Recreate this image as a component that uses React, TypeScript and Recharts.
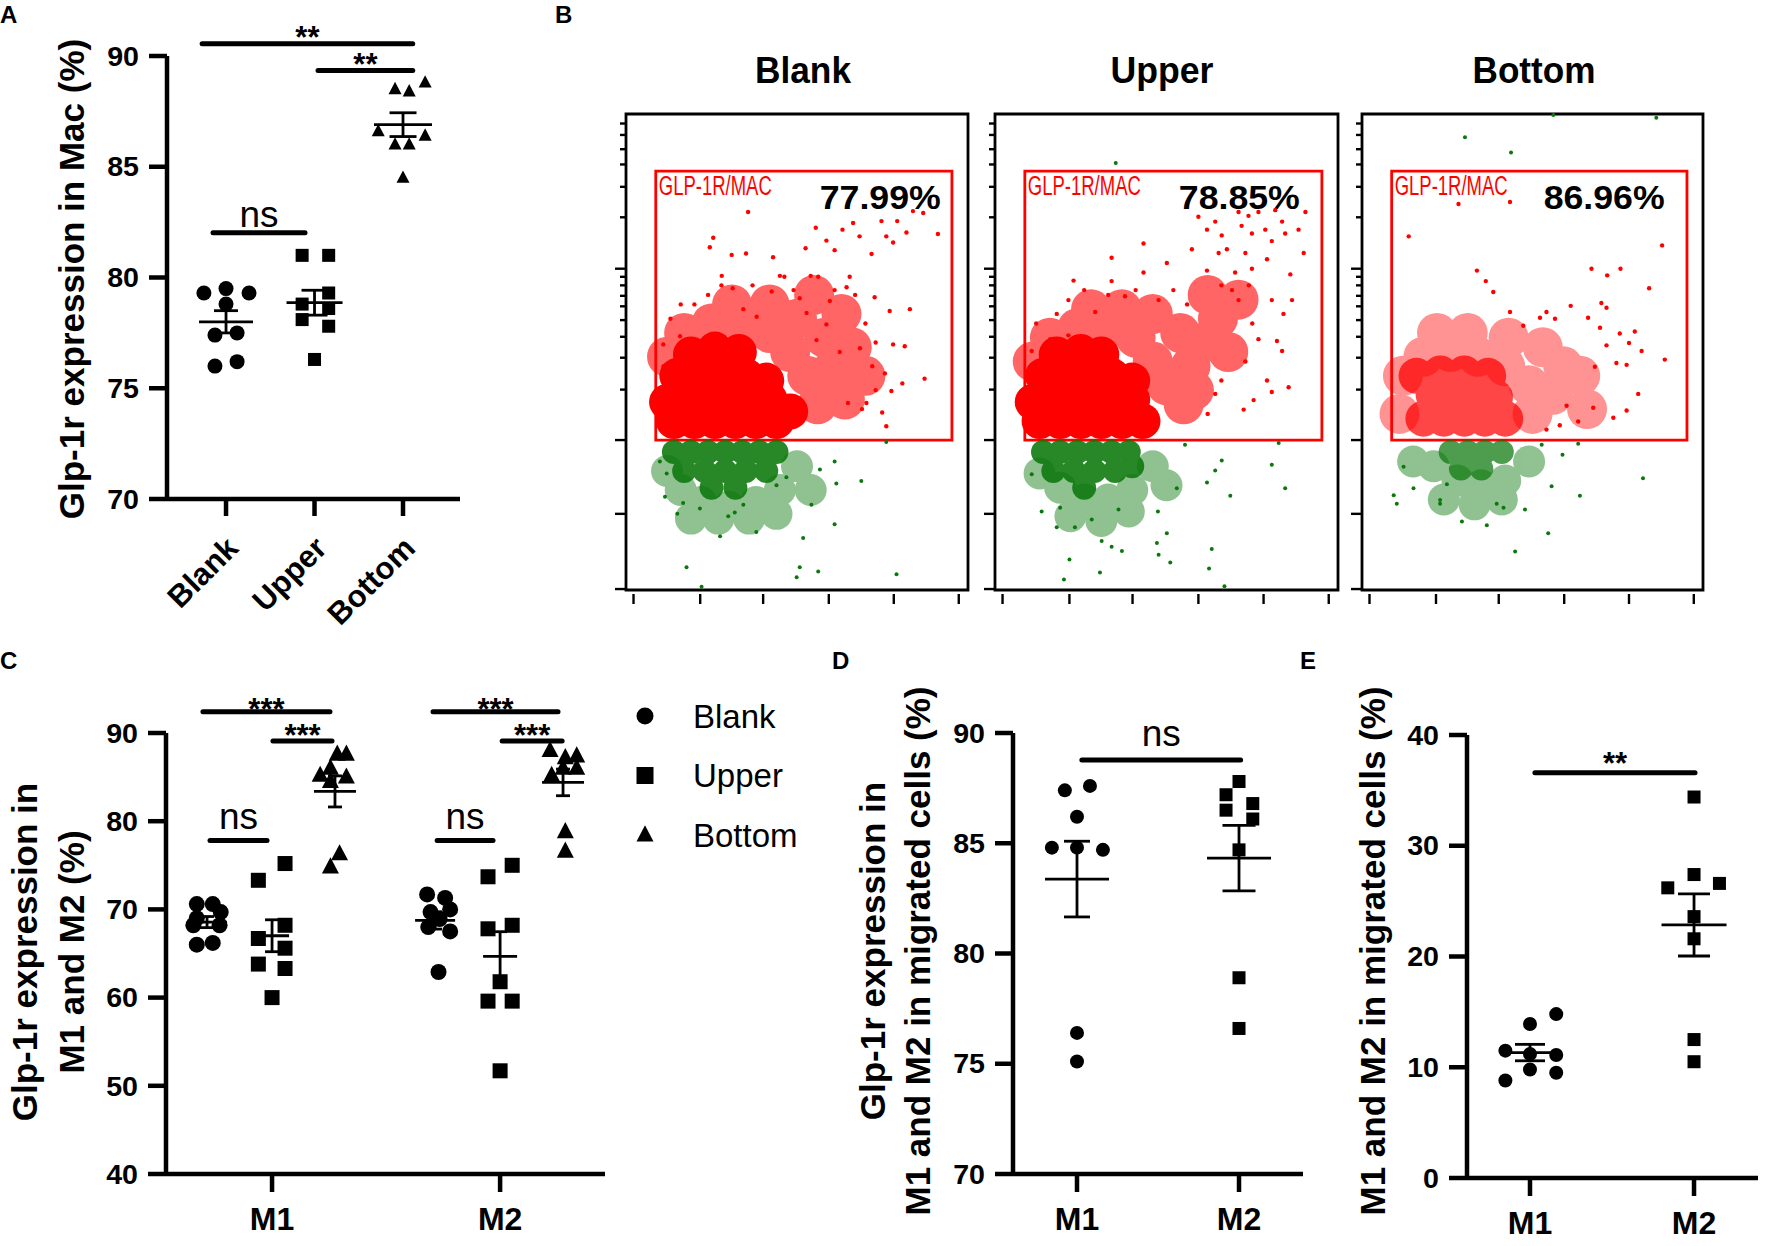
import React from 'react';
import {
  ScatterChart,
  Scatter,
  XAxis,
  YAxis,
  ErrorBar,
  ReferenceLine,
  ReferenceArea,
  Legend,
} from 'recharts';

const FONT = '"Liberation Sans", Arial, Helvetica, sans-serif';

// ---------- Panel A: Glp-1r expression in Mac ----------
const A_CATEGORIES = ['Blank', 'Upper', 'Bottom'];
const A_BLANK = [79.3, 79.5, 79.3, 78.8, 77.4, 77.5, 76.0, 76.2];
const A_BLANK_JITTER = [-0.25, 0, 0.26, 0, -0.125, 0.125, -0.125, 0.125];
const A_UPPER = [81.0, 81.0, 79.3, 78.8, 78.1, 78.6, 77.8, 76.3];
const A_UPPER_JITTER = [-0.14, 0.16, 0.16, -0.14, -0.14, 0.16, 0.16, 0];
const A_BOTTOM = [88.8, 88.5, 88.4, 86.6, 86.4, 86.0, 86.0, 84.5];
const A_BOTTOM_JITTER = [0.25, -0.09, 0.07, -0.28, 0.25, -0.09, 0.07, 0];
const A_Y_TICKS = [70, 75, 80, 85, 90];

// ---------- Panel C: M1 / M2 by group ----------
const SERIES_NAMES = ['Blank', 'Upper', 'Bottom'];
const C_CATEGORIES = ['M1', 'M2'];
const C_M1_BLANK = [70.6, 70.6, 69.7, 69.0, 68.2, 68.2, 66.0, 66.2];
const C_M1_BLANK_JITTER = [-0.045, 0.025, 0.06, -0.045, -0.06, 0.055, -0.045, 0.025];
const C_M1_UPPER = [73.3, 75.2, 66.7, 68.2, 65.6, 63.8, 63.3, 60.0];
const C_M1_UPPER_JITTER = [-0.06, 0.057, -0.06, 0.057, 0.057, -0.06, 0.057, 0];
const C_M1_BOTTOM = [86.0, 87.6, 87.6, 85.2, 85.0, 84.5, 76.3, 74.8];
const C_M1_BOTTOM_JITTER = [-0.02, 0.01, 0.05, -0.065, 0.05, -0.02, 0.02, -0.02];
const C_M2_BLANK = [71.7, 71.3, 70.0, 69.7, 68.9, 68.0, 67.5, 62.9];
const C_M2_BLANK_JITTER = [-0.035, 0.044, 0.066, -0.02, 0.02, -0.03, 0.066, 0.015];
const C_M2_UPPER = [73.7, 75.0, 67.8, 68.2, 61.8, 59.6, 59.6, 51.7];
const C_M2_UPPER_JITTER = [-0.053, 0.053, -0.053, 0.053, 0, -0.053, 0.053, 0];
const C_M2_BOTTOM = [88.0, 87.2, 87.4, 86.0, 85.2, 86.0, 78.8, 76.6];
const C_M2_BOTTOM_JITTER = [-0.057, 0.01, 0.06, 0.06, -0.05, 0, 0.01, 0.01];
const C_Y_TICKS = [40, 50, 60, 70, 80, 90];

// ---------- Panel D: Glp-1r in migrated cells ----------
const D_M1 = [87.4, 87.6, 86.2, 84.8, 84.8, 84.7, 76.4, 75.1];
const D_M1_JITTER = [-0.075, 0.08, 0, -0.155, 0, 0.16, 0, 0];
const D_M2 = [87.8, 87.2, 86.8, 86.5, 86.1, 84.7, 78.9, 76.6];
const D_M2_JITTER = [0, -0.08, 0.085, -0.08, 0.085, 0, 0, 0];
const D_Y_TICKS = [70, 75, 80, 85, 90];

// ---------- Panel E: M1 and M2 in migrated cells ----------
const E_M1 = [13.9, 14.8, 11.5, 11.1, 11.2, 9.8, 9.5, 8.8];
const E_M1_JITTER = [0, 0.16, -0.15, 0.16, 0, 0, 0.16, -0.15];
const E_M2 = [34.4, 27.4, 26.2, 26.6, 23.6, 21.6, 12.5, 10.5];
const E_M2_JITTER = [0, 0, -0.16, 0.155, 0, 0, 0, 0];
const E_Y_TICKS = [0, 10, 20, 30, 40];

// ---------- Panel B: flow cytometry (arbitrary 0-100 units) ----------
const FLOW_TITLES = ['Blank', 'Upper', 'Bottom'];
const FLOW_PERCENTS = ['77.99%', '78.85%', '86.96%'];
const FLOW_GATE_NAME = 'GLP-1R/MAC';
const FLOW_X_TICKS = [2.2, 21.7, 40.1, 59.3, 78.3, 97.3];
const FLOW_Y_MAJOR = [0.2, 16, 31.5, 67.5];
const FLOW_Y_MINOR = [42.1, 48.8, 53.2, 56.7, 59.6, 61.8, 64.0, 65.8, 78.3, 84.7, 89.4, 92.6, 95.6, 98.0];
const FLOW_GATE = { x1: 8.7, x2: 95.3, y1: 31.5, y2: 88 };

const BLANK_RED_CORE = [[14, 35.5], [20, 35.5], [26, 35.5], [32, 35.5], [38, 35.5], [44, 35.5], [12, 39.5], [18, 40.5], [24, 40.5], [30, 40.5], [36, 40.5], [42, 40], [48, 37.5], [15, 45], [21, 45], [28, 45.5], [35, 45], [41, 44], [19, 49.5], [26, 50.5], [33, 50]];
const BLANK_RED_HALO = [[12, 49], [17, 54], [25, 56], [34, 56], [42, 54], [48, 50], [53, 45], [56, 39], [60, 46], [58, 53], [50, 57], [42, 60], [31, 60], [64, 40], [66, 51], [63, 58], [70, 45], [55, 62]];
const BLANK_RED_DOTS = [[35.7, 79.4], [25.5, 74.0], [24.5, 72.0], [30.9, 70.4], [35.1, 70.7], [43.0, 69.9], [55.5, 76.1], [52.5, 71.8], [58.6, 73.4], [61.0, 71.4], [63.3, 75.7], [66.4, 77.1], [68.3, 74.3], [71.8, 70.6], [74.7, 77.5], [76.1, 74.3], [78.1, 73.0], [79.3, 77.5], [82.0, 75.1], [83.9, 79.6], [86.9, 79.2], [91.2, 74.8], [46.3, 65.8], [56.2, 65.8], [65.4, 65.8], [64.5, 63.6], [27.9, 64.0], [31.2, 63.4], [42.6, 62.7], [50.8, 61.3], [59.6, 60.7], [72.7, 61.5], [77.1, 58.6], [83.0, 59.0], [78.1, 51.6], [81.5, 51.2], [75.7, 45.5], [87.3, 44.4], [80.8, 43.4], [77.6, 41.8], [74.9, 37.3], [70.3, 39.3], [76.1, 34.4], [64.9, 39.3], [10.9, 51.6], [15.8, 53.3], [34.3, 59.0], [38.2, 57.4], [52.8, 58.2], [58.6, 55.8], [68.4, 50.8], [62.5, 50.0], [55.7, 52.5], [20, 60], [24, 62], [28, 66], [37, 64], [45, 66], [49, 63], [54, 66], [61, 63], [67, 62], [70, 56], [73, 52], [72, 47], [69, 38], [73, 42], [13, 57], [11, 47], [16, 60]];
const BLANK_GREEN_CORE = [[14, 29], [19, 29], [24, 29], [29, 29], [34, 29], [39, 29], [44, 29], [17, 25], [23, 25], [29, 25], [35, 25], [41, 25], [25, 21.5], [32, 21.5]];
const BLANK_GREEN_HALO = [[12, 25], [16, 21], [22, 18.5], [30, 17.5], [38, 18.5], [45, 21], [50, 26], [27, 15], [36, 15], [19, 15], [54, 21], [44, 16]];
const BLANK_GREEN_DOTS = [[9.9, 27], [11.9, 24.5], [11.4, 19.6], [15.0, 16.0], [16.7, 18.3], [21.6, 17.1], [27.5, 11.3], [29.9, 15.5], [31.8, 16.3], [34.3, 17.9], [38.1, 12.2], [44.0, 22.0], [46.9, 23.7], [51.8, 10.9], [54.2, 17.9], [56.7, 25.3], [61.0, 27.0], [61.5, 22.4], [68.8, 22.9], [61.0, 13.8], [17.7, 4.8], [50.8, 4.8], [56.2, 3.9], [79.1, 3.3], [76.1, 31.1], [22.1, 0.7], [49.9, 2.7]];

const UPPER_RED_CORE = [[13, 35.5], [19, 35.5], [25, 35.5], [31, 35.5], [37, 35.5], [43, 35.5], [11, 39.5], [16, 40.5], [22, 40.5], [28, 40.5], [34, 40.5], [40, 40], [14, 45], [20, 45], [27, 45.5], [34, 45], [40, 44], [18, 49.5], [25, 50], [31, 49.5]];
const UPPER_RED_HALO = [[11, 48], [16, 53], [24, 55], [33, 55], [41, 53], [46, 48], [50, 43], [55, 39], [57, 47], [54, 54], [46, 58], [37, 59], [28, 59], [61, 52], [65, 57], [68, 50], [62, 62], [71, 61], [58, 42]];
const UPPER_RED_DOTS = [[59.3, 78.4], [61.8, 75.7], [64.2, 77.4], [66.1, 74.5], [67.6, 71.6], [71.0, 79.4], [71.9, 76.5], [73.9, 78.6], [74.9, 74.9], [76.8, 79.4], [78.8, 75.7], [80.7, 73.3], [81.7, 79.8], [83.7, 77.4], [84.6, 74.9], [88.5, 75.7], [90.5, 79.4], [90.0, 70.8], [79.3, 69.5], [73.0, 70.8], [65.2, 70.8], [57.4, 71.6], [43.3, 72.8], [50.1, 68.7], [34.0, 69.8], [34.0, 64.9], [22.9, 65.0], [43.3, 66.7], [61.8, 67.1], [70.0, 66.7], [74.9, 67.5], [86.1, 66.3], [86.6, 60.9], [80.7, 60.9], [71.0, 60.9], [69.1, 63.0], [47.7, 60.9], [37.9, 61.7], [29.2, 58.4], [21.4, 60.9], [84.1, 58.0], [82.2, 52.3], [76.8, 52.7], [83.7, 50.2], [79.3, 44.0], [85.6, 42.6], [75.4, 39.9], [72.5, 37.9], [64.2, 41.2], [80.7, 41.6], [21.4, 53.5], [16.1, 52.7], [10.7, 50.2], [18, 58], [26, 63], [33, 62], [41, 63], [52, 63], [56, 60], [66, 64], [74, 64], [75, 56], [73, 48], [66, 44], [62, 37], [12, 56]];
const UPPER_GREEN_CORE = [[14, 29], [19, 29], [24, 29], [29, 29], [34, 29], [39, 29], [17, 25], [23, 25], [29, 25], [35, 25], [40, 26], [26, 21.5]];
const UPPER_GREEN_HALO = [[13, 24.5], [19, 21.5], [26, 19], [33, 19], [40, 21], [46, 26], [22, 15.5], [31, 14.5], [39, 16.5], [50, 22]];
const UPPER_GREEN_DOTS = [[10.7, 24.3], [13.6, 16.5], [19.0, 17.3], [18.0, 13.2], [23.3, 13.2], [28.2, 14.8], [31.1, 10.3], [34.0, 9.1], [36.0, 16.9], [37.0, 8.2], [47.2, 9.9], [47.5, 16.5], [50.1, 11.9], [47.7, 7.4], [51.1, 5.8], [53.0, 21.4], [55.4, 30.5], [61.8, 22.6], [64.2, 25.1], [66.1, 27.2], [68.6, 19.8], [80.7, 26.3], [82.7, 30.9], [84.6, 21.4], [63.2, 8.6], [62.4, 4.5], [21.7, 6.4], [20.1, 2.2], [30.6, 3.7], [66.9, 0.8], [35.2, 89.7]];

const BOTTOM_RED_CORE = [[18, 36], [24, 36], [30, 36], [36, 36], [42, 36], [21, 41], [27, 41], [33, 41], [39, 40.5], [16, 45], [23, 45.5], [30, 45.5], [37, 45]];
const BOTTOM_RED_HALO = [[11, 37], [12, 45], [18, 49], [26, 50], [34, 49], [42, 47], [49, 43], [50, 37], [56, 41], [59, 47], [22, 54], [31, 54], [43, 53], [53, 51], [64, 45], [66, 38]];
const BOTTOM_RED_DOTS = [[13.7, 74.3], [28.3, 81.1], [43.4, 81.5], [33.7, 67.1], [36.3, 64.9], [38.5, 62.6], [67.3, 67.5], [71.9, 66.1], [75.8, 67.5], [84.2, 63.4], [88.0, 72.4], [70.2, 60.3], [71.7, 59.3], [61.2, 59.7], [54.1, 58.4], [56.6, 57.0], [52.2, 57.2], [43.4, 58.4], [47.3, 55.5], [69.8, 55.1], [66.3, 57.2], [75.6, 53.9], [80.0, 54.3], [71.7, 51.4], [78.3, 51.9], [82.0, 50.2], [74.6, 47.7], [77.6, 47.3], [68.3, 46.9], [88.8, 48.4], [81.0, 41.2], [77.6, 37.7], [73.7, 36.2], [63.4, 35.4], [67.8, 38.3], [60.0, 38.7], [58.0, 34.6], [54.1, 33.7]];
const BOTTOM_GREEN_CORE = [[26, 29], [31, 29], [36, 29], [41, 29], [29, 25.5], [35, 25.5]];
const BOTTOM_GREEN_HALO = [[15, 27], [21, 26], [28, 23], [35, 22], [42, 23], [49, 27], [24, 19], [33, 18], [41, 19]];
const BOTTOM_GREEN_DOTS = [[9.3, 19.9], [10.2, 18.1], [15.1, 21.4], [12.2, 25.9], [22.9, 18.9], [24.9, 22.2], [22.9, 18.1], [29.3, 14.4], [36.6, 13.6], [39.5, 18.1], [41.5, 17.3], [47.8, 16.9], [44.9, 8.1], [54.6, 11.9], [55.6, 21.8], [58.8, 28.4], [63.4, 30.7], [63.9, 19.8], [82.4, 23.5], [52.7, 30.5], [30.2, 95.1], [43.7, 91.9], [56.1, 99.8], [86.3, 99.2]];

// ---------- helpers ----------
type Kind = 'circle' | 'square' | 'triangle';
const KIND_OF: Record<string, Kind> = { Blank: 'circle', Upper: 'square', Bottom: 'triangle' };
const RED = '#ff0000';
const GREEN = '#0b780b';

// group opacity keeps overlapping blobs one even tone
const FLOW_CSS = `
.flow-red-halo { opacity: 0.6; }
.flow-red-halo-light { opacity: 0.42; }
.flow-red-core-light { opacity: 0.72; }
.flow-green-halo { opacity: 0.45; }
.flow-green-core { opacity: 0.88; }
.flow-green-core-light { opacity: 0.72; }
`;

const markerEl = (kind: Kind, cx: number, cy: number, size: number, key?: string) => {
  if (kind === 'circle') return <circle key={key} cx={cx} cy={cy} r={size / 2} fill="#000" />;
  if (kind === 'square')
    return <rect key={key} x={cx - size / 2} y={cy - size / 2} width={size} height={size} fill="#000" />;
  const h = size * 0.95;
  return (
    <path
      key={key}
      d={`M${cx},${cy - h * 0.6}L${cx + size / 2},${cy + h * 0.4}L${cx - size / 2},${cy + h * 0.4}Z`}
      fill="#000"
    />
  );
};

const markerShape = (kind: Kind, size: number) => (p: any) =>
  p.cx == null ? <g /> : markerEl(kind, p.cx, p.cy, size);

const meanShape = (w: number) => (p: any) =>
  p.cx == null ? <g /> : (
    <line x1={p.cx - w / 2} x2={p.cx + w / 2} y1={p.cy} y2={p.cy} stroke="#000" strokeWidth={2.8} />
  );

const dotShape = (r: number, color: string) => (p: any) =>
  p.cx == null ? <g /> : <circle cx={p.cx} cy={p.cy} r={r} fill={color} />;

const toPoints = (arr: number[][]) => arr.map(([x, y]) => ({ x, y }));

const stripPoints = (center: number, values: number[], jitter: number[]) =>
  values.map((v, i) => ({ x: center + jitter[i], y: v }));

const meanSem = (center: number, values: number[]) => {
  const n = values.length;
  const mean = values.reduce((s, v) => s + v, 0) / n;
  const sd = Math.sqrt(values.reduce((s, v) => s + (v - mean) ** 2, 0) / (n - 1));
  return [{ x: center, y: mean, sem: sd / Math.sqrt(n) }];
};

function SText({ x, y, children, size, weight = 'bold', anchor = 'start', sx = 1, rotate = 0, fill = '#000', length, dy }: any) {
  return (
    <text
      transform={`translate(${x},${y}) scale(${sx},1)${rotate ? ` rotate(${rotate})` : ''}`}
      textAnchor={anchor}
      fontSize={size}
      fontWeight={weight}
      fontFamily={FONT}
      fill={fill}
      dy={dy}
      textLength={length}
      lengthAdjust={length ? 'spacingAndGlyphs' : undefined}
    >
      {children}
    </text>
  );
}

const NumTick = (p: any) => (
  <SText x={p.x} y={p.y} size={27} sx={1.06} anchor="end" dy="0.36em">
    {p.payload.value}
  </SText>
);

const catTick = (labels: string[]) => (p: any) => (
  <SText x={p.x} y={p.y + 38} size={32} anchor="middle">
    {labels[p.payload.value - 1]}
  </SText>
);

const rotatedTick = (labels: string[]) => (p: any) => (
  <text
    transform={`translate(${p.x + 14},${p.y + 34}) rotate(-45)`}
    textAnchor="end"
    fontSize={31}
    fontWeight="bold"
    fontFamily={FONT}
    fill="#000"
  >
    {labels[p.payload.value - 1]}
  </text>
);

type Group = { name: string; center: number; values: number[]; jitter: number[]; size: number; meanW: number; capW: number };
type Sig = { x1: number; x2: number; y: number; text: string; dy: number };

const sigLine = (s: Sig, i: number) => {
  const isNs = s.text === 'ns';
  return (
    <ReferenceLine
      key={`sig-${i}`}
      segment={[{ x: s.x1, y: s.y }, { x: s.x2, y: s.y }]}
      stroke="#000"
      strokeWidth={5}
      strokeLinecap="round"
      ifOverflow="visible"
      label={(lp: any) => {
        const vb = lp.viewBox || {};
        return (
          <text
            x={vb.x + (vb.width || 0) / 2}
            y={vb.y + s.dy}
            textAnchor="middle"
            fontSize={isNs ? 37 : 31}
            fontWeight={isNs ? 'normal' : 'bold'}
            fontFamily={FONT}
            fill="#000"
          >
            {s.text}
          </text>
        );
      }}
    />
  );
};

function StripPanel({ frame, margin, xDomain, xTicks, xTick, xAxisH, xTickSize, yDomain, yTicks, groups, sigs, legend }: any) {
  return (
    <div style={{ position: 'absolute', left: frame.left, top: frame.top }}>
      <ScatterChart width={frame.width} height={frame.height} margin={margin}>
        <XAxis
          type="number"
          dataKey="x"
          domain={xDomain}
          ticks={xTicks}
          interval={0}
          height={xAxisH}
          tickSize={xTickSize}
          tickMargin={0}
          axisLine={{ stroke: '#000', strokeWidth: 4.5 }}
          tickLine={{ stroke: '#000', strokeWidth: 4.5 }}
          tick={xTick}
        />
        <YAxis
          type="number"
          dataKey="y"
          domain={yDomain}
          ticks={yTicks}
          interval={0}
          width={80}
          tickSize={18}
          tickMargin={10}
          axisLine={{ stroke: '#000', strokeWidth: 4.5 }}
          tickLine={{ stroke: '#000', strokeWidth: 4.5 }}
          tick={NumTick}
        />
        {groups.map((g: Group, i: number) => (
          <Scatter
            key={`pts-${i}`}
            name={g.name}
            data={stripPoints(g.center, g.values, g.jitter)}
            shape={markerShape(KIND_OF[g.name], g.size)}
            isAnimationActive={false}
          />
        ))}
        {groups.map((g: Group, i: number) => (
          <Scatter
            key={`mean-${i}`}
            name={`${g.name} mean`}
            legendType="none"
            data={meanSem(g.center, g.values)}
            shape={meanShape(g.meanW)}
            isAnimationActive={false}
          >
            <ErrorBar
              dataKey="sem"
              direction="y"
              width={g.capW / 2}
              stroke="#000"
              strokeWidth={2.8}
              isAnimationActive={false}
            />
          </Scatter>
        ))}
        {sigs.map(sigLine)}
        {legend}
      </ScatterChart>
    </div>
  );
}

const legendContent = (props: any) => {
  const present = (props.payload || []).map((e: any) => e.value);
  const names = SERIES_NAMES.filter((n) => present.includes(n));
  return (
    <svg width={220} height={180}>
      {names.map((name, i) => (
        <g key={name}>
          {markerEl(KIND_OF[name], 20, 26 + i * 59.5, 17)}
          <SText x={68} y={37.5 + i * 59.5} size={33} weight="normal">
            {name}
          </SText>
        </g>
      ))}
    </svg>
  );
};

const FlowYTick = (p: any) => {
  const major = FLOW_Y_MAJOR.includes(p.payload.value);
  return <line x1={p.x - (major ? 11 : 6)} x2={p.x - 1} y1={p.y} y2={p.y} stroke="#000" strokeWidth={2.4} />;
};
const FlowXTick = (p: any) => (
  <line x1={p.x} x2={p.x} y1={p.y + 4} y2={p.y + 14} stroke="#000" strokeWidth={2.4} />
);

function FlowPanel({ boxLeft, boxW, pct, pctX, red, green, cls }: any) {
  const width = boxW + 38;
  return (
    <div style={{ position: 'absolute', left: boxLeft - 26, top: 90 }}>
      <ScatterChart width={width} height={530} margin={{ top: 24, left: 16, right: 12, bottom: 10 }}>
        <XAxis
          type="number"
          dataKey="x"
          domain={[0, 100]}
          ticks={FLOW_X_TICKS}
          interval={0}
          height={20}
          tickSize={0}
          tickMargin={0}
          axisLine={false}
          tickLine={false}
          tick={FlowXTick}
        />
        <YAxis
          type="number"
          dataKey="y"
          domain={[0, 100]}
          ticks={[...FLOW_Y_MAJOR, ...FLOW_Y_MINOR]}
          interval={0}
          width={10}
          tickSize={0}
          tickMargin={0}
          axisLine={false}
          tickLine={false}
          tick={FlowYTick}
        />
        <Scatter className={cls.greenHalo} data={toPoints(green.halo)} shape={dotShape(16, GREEN)} isAnimationActive={false} />
        <Scatter className={cls.greenCore} data={toPoints(green.core)} shape={dotShape(12, GREEN)} isAnimationActive={false} />
        <Scatter data={toPoints(green.dots)} shape={dotShape(2, GREEN)} isAnimationActive={false} />
        <Scatter className={cls.redHalo} data={toPoints(red.halo)} shape={dotShape(20, RED)} isAnimationActive={false} />
        <Scatter className={cls.redCore} data={toPoints(red.core)} shape={dotShape(18, RED)} isAnimationActive={false} />
        <Scatter data={toPoints(red.dots)} shape={dotShape(2.2, RED)} isAnimationActive={false} />
        <ReferenceArea x1={0} x2={100} y1={0} y2={100} fill="none" fillOpacity={0} stroke="#000" strokeWidth={2.8} />
        <ReferenceArea
          x1={FLOW_GATE.x1}
          x2={FLOW_GATE.x2}
          y1={FLOW_GATE.y1}
          y2={FLOW_GATE.y2}
          fill="none"
          fillOpacity={0}
          stroke={RED}
          strokeWidth={2.8}
          label={(lp: any) => {
            const vb = lp.viewBox || {};
            return (
              <g>
                <text x={vb.x + 3} y={vb.y + 24} fontSize={27} fontFamily={FONT} fill={RED} textLength={113} lengthAdjust="spacingAndGlyphs">
                  {FLOW_GATE_NAME}
                </text>
                <text x={vb.x + pctX} y={vb.y + 38} fontSize={33} fontWeight="bold" fontFamily={FONT} fill="#000" textLength={121} lengthAdjust="spacingAndGlyphs">
                  {pct}
                </text>
              </g>
            );
          }}
        />
      </ScatterChart>
    </div>
  );
}

export default function App() {
  const aGroups: Group[] = [
    { name: 'Blank', center: 1, values: A_BLANK, jitter: A_BLANK_JITTER, size: 15, meanW: 54, capW: 24 },
    { name: 'Upper', center: 2, values: A_UPPER, jitter: A_UPPER_JITTER, size: 13, meanW: 56, capW: 26 },
    { name: 'Bottom', center: 3, values: A_BOTTOM, jitter: A_BOTTOM_JITTER, size: 13, meanW: 58, capW: 27 },
  ];
  const aSigs: Sig[] = [
    { x1: 0.73, x2: 3.11, y: 90.55, text: '**', dy: 4 },
    { x1: 2.04, x2: 3.11, y: 89.35, text: '**', dy: 5 },
    { x1: 0.853, x2: 1.893, y: 82.02, text: 'ns', dy: -6 },
  ];
  const cGroups: Group[] = [
    { name: 'Blank', center: 0.715, values: C_M1_BLANK, jitter: C_M1_BLANK_JITTER, size: 16, meanW: 40, capW: 14 },
    { name: 'Upper', center: 1, values: C_M1_UPPER, jitter: C_M1_UPPER_JITTER, size: 15, meanW: 34, capW: 14 },
    { name: 'Bottom', center: 1.276, values: C_M1_BOTTOM, jitter: C_M1_BOTTOM_JITTER, size: 17, meanW: 42, capW: 14 },
    { name: 'Blank', center: 1.715, values: C_M2_BLANK, jitter: C_M2_BLANK_JITTER, size: 16, meanW: 40, capW: 14 },
    { name: 'Upper', center: 2, values: C_M2_UPPER, jitter: C_M2_UPPER_JITTER, size: 15, meanW: 34, capW: 14 },
    { name: 'Bottom', center: 2.276, values: C_M2_BOTTOM, jitter: C_M2_BOTTOM_JITTER, size: 17, meanW: 42, capW: 14 },
  ];
  const cSigs: Sig[] = [
    { x1: 0.697, x2: 1.254, y: 92.4, text: '***', dy: 8 },
    { x1: 1.004, x2: 1.263, y: 89.1, text: '***', dy: 5 },
    { x1: 0.728, x2: 0.978, y: 77.8, text: 'ns', dy: -12 },
    { x1: 1.706, x2: 2.254, y: 92.4, text: '***', dy: 8 },
    { x1: 2.009, x2: 2.272, y: 89.1, text: '***', dy: 5 },
    { x1: 1.724, x2: 1.969, y: 77.8, text: 'ns', dy: -12 },
  ];
  const dGroups: Group[] = [
    { name: 'Blank', center: 1, values: D_M1, jitter: D_M1_JITTER, size: 14, meanW: 64, capW: 26 },
    { name: 'Upper', center: 2, values: D_M2, jitter: D_M2_JITTER, size: 13, meanW: 64, capW: 33 },
  ];
  const dSigs: Sig[] = [{ x1: 1.03, x2: 2.01, y: 88.78, text: 'ns', dy: -14 }];
  const eGroups: Group[] = [
    { name: 'Blank', center: 1, values: E_M1, jitter: E_M1_JITTER, size: 14, meanW: 57, capW: 30 },
    { name: 'Upper', center: 2, values: E_M2, jitter: E_M2_JITTER, size: 13, meanW: 65, capW: 32 },
  ];
  const eSigs: Sig[] = [{ x1: 1.03, x2: 2.006, y: 36.6, text: '**', dy: 1 }];

  const denseCls = { redHalo: 'flow-red-halo', redCore: '', greenHalo: 'flow-green-halo', greenCore: 'flow-green-core' };
  const lightCls = { redHalo: 'flow-red-halo-light', redCore: 'flow-red-core-light', greenHalo: 'flow-green-halo', greenCore: 'flow-green-core-light' };
  const flows = [
    { boxLeft: 626, boxW: 342, pctX: 164, red: { core: BLANK_RED_CORE, halo: BLANK_RED_HALO, dots: BLANK_RED_DOTS }, green: { core: BLANK_GREEN_CORE, halo: BLANK_GREEN_HALO, dots: BLANK_GREEN_DOTS }, cls: denseCls },
    { boxLeft: 995, boxW: 343, pctX: 154, red: { core: UPPER_RED_CORE, halo: UPPER_RED_HALO, dots: UPPER_RED_DOTS }, green: { core: UPPER_GREEN_CORE, halo: UPPER_GREEN_HALO, dots: UPPER_GREEN_DOTS }, cls: denseCls },
    { boxLeft: 1362, boxW: 341, pctX: 152, red: { core: BOTTOM_RED_CORE, halo: BOTTOM_RED_HALO, dots: BOTTOM_RED_DOTS }, green: { core: BOTTOM_GREEN_CORE, halo: BOTTOM_GREEN_HALO, dots: BOTTOM_GREEN_DOTS }, cls: lightCls },
  ];
  const flowTitleX = [803, 1162, 1534];
  const flowTitleLen = [96, 103, 123];

  return (
    <div style={{ position: 'absolute', left: 0, top: 0, width: 1773, height: 1246, background: '#fff', overflow: 'hidden' }}>
      <style>{FLOW_CSS}</style>
      <StripPanel
        frame={{ left: 0, top: 0, width: 480, height: 650 }}
        margin={{ top: 56, left: 87, right: 20, bottom: 71 }}
        xDomain={[0.333, 3.644]}
        xTicks={[1, 2, 3]}
        xTick={rotatedTick(A_CATEGORIES)}
        xAxisH={80}
        xTickSize={17}
        yDomain={[70, 90]}
        yTicks={A_Y_TICKS}
        groups={aGroups}
        sigs={aSigs}
      />
      <StripPanel
        frame={{ left: 0, top: 620, width: 620, height: 626 }}
        margin={{ top: 113, left: 86, right: 15, bottom: 12 }}
        xDomain={[0.535, 2.46]}
        xTicks={[1, 2]}
        xTick={catTick(C_CATEGORIES)}
        xAxisH={60}
        xTickSize={18}
        yDomain={[40, 90]}
        yTicks={C_Y_TICKS}
        groups={cGroups}
        sigs={cSigs}
        legend={
          <Legend
            layout="vertical"
            align="center"
            verticalAlign="middle"
            wrapperStyle={{ left: 625, top: 70, width: 220, height: 180 }}
            content={legendContent}
          />
        }
      />
      <StripPanel
        frame={{ left: 820, top: 620, width: 500, height: 626 }}
        margin={{ top: 113, left: 113, right: 17, bottom: 12 }}
        xDomain={[0.605, 2.395]}
        xTicks={[1, 2]}
        xTick={catTick(C_CATEGORIES)}
        xAxisH={60}
        xTickSize={18}
        yDomain={[70, 90]}
        yTicks={D_Y_TICKS}
        groups={dGroups}
        sigs={dSigs}
      />
      <StripPanel
        frame={{ left: 1320, top: 620, width: 453, height: 626 }}
        margin={{ top: 115, left: 67, right: 15, bottom: 8 }}
        xDomain={[0.616, 2.39]}
        xTicks={[1, 2]}
        xTick={catTick(C_CATEGORIES)}
        xAxisH={60}
        xTickSize={18}
        yDomain={[0, 40]}
        yTicks={E_Y_TICKS}
        groups={eGroups}
        sigs={eSigs}
      />
      {flows.map((f, i) => (
        <FlowPanel key={FLOW_TITLES[i]} {...f} pct={FLOW_PERCENTS[i]} />
      ))}
      <svg width={1773} height={1246} style={{ position: 'absolute', left: 0, top: 0, pointerEvents: 'none' }}>
        <SText x={0} y={23} size={24}>A</SText>
        <SText x={555} y={23} size={24}>B</SText>
        <SText x={0} y={669} size={24}>C</SText>
        <SText x={832} y={669} size={24}>D</SText>
        <SText x={1300} y={669} size={24}>E</SText>
        {FLOW_TITLES.map((t, i) => (
          <SText key={t} x={flowTitleX[i]} y={83} size={37} anchor="middle" length={flowTitleLen[i]}>
            {t}
          </SText>
        ))}
        <SText x={72} y={279} size={35} anchor="middle" rotate={-90} dy="0.35em">
          Glp-1r expression in Mac (%)
        </SText>
        <SText x={25} y={952} size={35} anchor="middle" rotate={-90} dy="0.35em">
          Glp-1r expression in
        </SText>
        <SText x={72} y={952} size={35} anchor="middle" rotate={-90} dy="0.35em">
          M1 and M2 (%)
        </SText>
        <SText x={873} y={951} size={35} anchor="middle" rotate={-90} dy="0.35em">
          Glp-1r expression in
        </SText>
        <SText x={918} y={951} size={35} anchor="middle" rotate={-90} dy="0.35em">
          M1 and M2 in migrated cells (%)
        </SText>
        <SText x={1373} y={951} size={35} anchor="middle" rotate={-90} dy="0.35em">
          M1 and M2 in migrated cells (%)
        </SText>
      </svg>
    </div>
  );
}
